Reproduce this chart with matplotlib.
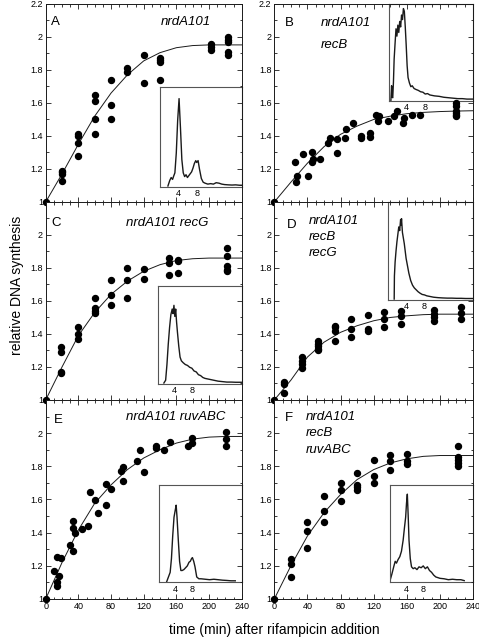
import matplotlib.pyplot as plt
import numpy as np
from matplotlib.ticker import MultipleLocator, FormatStrFormatter

plt.rcParams['font.family'] = ['Liberation Sans', 'DejaVu Sans']

# ---- measured points (time in min, relative DNA synthesis) ----
a_t = [0, 20, 20, 20, 20, 40, 40, 40, 40, 60, 60, 60, 60, 80, 80, 80, 100, 100,
       120, 120, 140, 140, 140, 140, 202, 202, 202, 223, 223, 223, 223, 223]
a_v = [1.0, 1.19, 1.18, 1.17, 1.13, 1.41, 1.40, 1.36, 1.28, 1.65, 1.61, 1.50, 1.41,
       1.74, 1.59, 1.50, 1.81, 1.79, 1.89, 1.72, 1.87, 1.86, 1.85, 1.74,
       1.955, 1.94, 1.92, 2.00, 1.98, 1.97, 1.91, 1.89]

b_t = [0, 25, 26, 27, 35, 41, 45, 45, 47, 55, 65, 67, 76, 76, 85, 87, 95, 105, 105,
       115, 116, 123, 125, 127, 137, 145, 148, 155, 157, 166, 176,
       220, 220, 220, 220, 220, 220]
b_v = [1.0, 1.24, 1.12, 1.155, 1.29, 1.155, 1.30, 1.24, 1.26, 1.26, 1.356, 1.39,
       1.38, 1.296, 1.39, 1.44, 1.48, 1.40, 1.386, 1.396, 1.42, 1.53, 1.49, 1.52,
       1.49, 1.52, 1.55, 1.48, 1.51, 1.53, 1.527,
       1.60, 1.58, 1.55, 1.54, 1.53, 1.52]

c_t = [0, 19, 19, 19, 19, 39, 39, 39, 60, 60, 60, 60, 80, 80, 80, 100, 100, 100,
       120, 120, 151, 151, 151, 162, 162, 162, 222, 222, 222, 222, 222]
c_v = [1.0, 1.32, 1.29, 1.17, 1.165, 1.44, 1.40, 1.37, 1.62, 1.56, 1.54, 1.53,
       1.725, 1.635, 1.575, 1.80, 1.73, 1.615, 1.795, 1.735, 1.86, 1.83, 1.76,
       1.85, 1.84, 1.77, 1.92, 1.87, 1.81, 1.79, 1.78]

d_t = [0, 12, 12, 12, 33, 33, 33, 33, 53, 53, 53, 53, 53, 73, 73, 73, 73, 93, 93, 93,
       113, 113, 113, 133, 133, 133, 153, 153, 153, 193, 193, 193, 193, 225, 225, 225]
d_v = [1.0, 1.11, 1.095, 1.04, 1.26, 1.235, 1.22, 1.195, 1.36, 1.34, 1.33, 1.31, 1.30,
       1.45, 1.44, 1.42, 1.36, 1.49, 1.43, 1.38, 1.515, 1.43, 1.42, 1.535, 1.49, 1.44,
       1.54, 1.51, 1.46, 1.545, 1.52, 1.50, 1.48, 1.565, 1.525, 1.49]

e_t = [0, 10.6, 13.4, 13.4, 13.4, 16.7, 18.7, 30, 33, 33.4, 33.8, 35.4, 44, 52, 54,
       60, 64, 73.6, 74.4, 79.7, 92, 94.8, 94.8, 112, 115, 120.4, 134.7, 135, 144.8,
       152.6, 174, 178.6, 179, 221, 221, 221]
e_v = [1.0, 1.171, 1.251, 1.105, 1.08, 1.141, 1.247, 1.324, 1.29, 1.47, 1.43, 1.40,
       1.42, 1.443, 1.644, 1.596, 1.52, 1.692, 1.567, 1.664, 1.769, 1.795, 1.714,
       1.833, 1.90, 1.763, 1.92, 1.91, 1.90, 1.944, 1.925, 1.97, 1.94,
       2.006, 1.966, 1.925]

f_t = [0, 20, 20, 20, 40, 40, 40, 60, 60, 60, 80, 80, 80, 100, 100, 100, 100,
       120, 120, 120, 140, 140, 140, 160, 160, 160, 222, 222, 222, 222, 222]
f_v = [1.0, 1.24, 1.21, 1.13, 1.465, 1.41, 1.31, 1.62, 1.53, 1.465, 1.70, 1.655, 1.59,
       1.76, 1.69, 1.675, 1.66, 1.84, 1.74, 1.70, 1.87, 1.835, 1.78,
       1.875, 1.83, 1.815, 1.925, 1.855, 1.84, 1.82, 1.80]

# ---- fitted curves, read at these times ----
fit_t = [0, 10, 20, 40, 60, 80, 100, 120, 140, 160, 180, 200, 220, 240]
a_fit = [1.0, 1.085, 1.17, 1.35, 1.52, 1.66, 1.77, 1.855, 1.905, 1.935, 1.948, 1.952, 1.952, 1.952]
b_fit = [1.0, 1.06, 1.12, 1.235, 1.335, 1.41, 1.46, 1.50, 1.52, 1.535, 1.543, 1.548, 1.551, 1.553]
c_fit = [1.0, 1.10, 1.20, 1.39, 1.53, 1.64, 1.72, 1.78, 1.82, 1.845, 1.856, 1.86, 1.86, 1.86]
d_fit = [1.0, 1.06, 1.12, 1.26, 1.35, 1.41, 1.45, 1.48, 1.50, 1.51, 1.517, 1.52, 1.52, 1.52]
e_fit = [1.0, 1.11, 1.22, 1.416, 1.577, 1.688, 1.78, 1.85, 1.90, 1.94, 1.964, 1.976, 1.98, 1.98]
f_fit = [1.0, 1.10, 1.20, 1.38, 1.52, 1.63, 1.72, 1.78, 1.82, 1.845, 1.86, 1.865, 1.865, 1.865]

# ---- inset DNA histograms (chromosome equivalents, relative cell number) ----
a_hx = [1.8, 2.2, 2.5, 2.8, 3.0, 3.3, 3.6, 3.9, 4.2, 4.5, 4.8, 5.1, 5.4, 5.7, 6.0, 6.3,
        6.6, 6.9, 7.2, 7.5, 7.8, 8.0, 8.3, 8.6, 9.0, 9.4, 9.8, 10.4, 11, 11.6, 12.2,
        12.8, 13.4, 14, 14.8, 15.6, 16.4, 17.2, 17.7]
a_hy = [0.0, 0.06, 0.09, 0.07, 0.10, 0.14, 0.35, 0.70, 0.93, 0.62, 0.28, 0.14, 0.10,
        0.12, 0.09, 0.11, 0.13, 0.15, 0.19, 0.24, 0.27, 0.25, 0.27, 0.18, 0.08, 0.04,
        0.03, 0.02, 0.025, 0.02, 0.035, 0.03, 0.02, 0.015, 0.012, 0.01, 0.012, 0.008, 0.008]
b_hx = [0.6, 0.75, 0.85, 1.0, 1.15, 1.3, 1.5, 1.7, 1.9, 2.1, 2.3, 2.5, 2.7, 2.9, 3.1,
        3.3, 3.5, 3.7, 3.9, 4.1, 4.3, 4.6, 4.9, 5.2, 5.6, 6.0, 6.5, 7, 7.5, 8, 8.5, 9,
        10, 11, 12, 13, 14, 15, 16, 17, 18.3]
b_hy = [0.0, 0.16, 0.04, 0.03, 0.2, 0.45, 0.62, 0.78, 0.70, 0.82, 0.74, 0.86, 0.80,
        0.93, 0.88, 1.0, 0.97, 0.80, 0.60, 0.38, 0.25, 0.19, 0.15, 0.16, 0.13, 0.12,
        0.11, 0.095, 0.09, 0.07, 0.075, 0.06, 0.05, 0.045, 0.035, 0.03, 0.025, 0.02,
        0.02, 0.015, 0.015]
c_hx = [1.6, 2.0, 2.3, 2.6, 2.9, 3.2, 3.5, 3.7, 3.9, 4.1, 4.3, 4.5, 4.7, 5.0, 5.3, 5.6,
        6.0, 6.5, 7, 7.5, 8, 8.5, 9, 9.5, 10, 10.5, 11, 12, 13, 14, 15, 16, 17, 18, 19.4]
c_hy = [0.0, 0.03, 0.2, 0.42, 0.6, 0.74, 0.80, 0.75, 0.84, 0.72, 0.80, 0.66, 0.55,
        0.40, 0.28, 0.24, 0.22, 0.20, 0.19, 0.17, 0.16, 0.13, 0.12, 0.09, 0.08, 0.06,
        0.05, 0.04, 0.03, 0.02, 0.015, 0.01, 0.01, 0.008, 0.008]
d_hx = [1.4, 1.45, 1.6, 1.8, 2.0, 2.2, 2.4, 2.6, 2.8, 2.9, 3.0, 3.2, 3.4, 3.6, 3.8, 4.0,
        4.3, 4.6, 5.0, 5.4, 5.8, 6.2, 6.6, 7, 7.5, 8, 8.5, 9, 10, 11, 12, 13, 14, 15,
        16, 17, 18.6]
d_hy = [0.0, 0.25, 0.40, 0.52, 0.62, 0.70, 0.78, 0.74, 0.86, 0.80, 0.87, 0.72, 0.66,
        0.60, 0.52, 0.44, 0.36, 0.28, 0.2, 0.15, 0.12, 0.1, 0.08, 0.065, 0.05, 0.045,
        0.035, 0.03, 0.02, 0.015, 0.012, 0.01, 0.01, 0.008, 0.008, 0.006, 0.006]
e_hx = [2.0, 2.4, 2.8, 3.1, 3.4, 3.7, 4.0, 4.2, 4.4, 4.7, 5.0, 5.3, 5.6, 6.0, 6.4, 6.8,
        7.2, 7.5, 7.8, 8.0, 8.3, 8.6, 9.0, 9.5, 10, 11, 12, 13, 14, 15, 16, 17, 18]
e_hy = [0.0, 0.05, 0.1, 0.25, 0.5, 0.7, 0.78, 0.83, 0.70, 0.45, 0.22, 0.12, 0.12, 0.13,
        0.15, 0.17, 0.21, 0.22, 0.25, 0.26, 0.22, 0.16, 0.05, 0.03, 0.03, 0.025, 0.02,
        0.025, 0.02, 0.015, 0.012, 0.008, 0.008]
f_hx = [0, 0.5, 1.0, 1.3, 1.6, 2.0, 2.4, 2.8, 3.2, 3.5, 3.8, 4.0, 4.2, 4.4, 4.6, 4.9,
        5.2, 5.6, 6.0, 6.5, 7, 7.5, 8, 8.5, 9, 9.5, 10, 10.5, 11, 12, 13, 14, 15, 16,
        17, 17.8]
f_hy = [0.0, 0.08, 0.17, 0.22, 0.2, 0.24, 0.27, 0.33, 0.45, 0.58, 0.70, 0.85, 0.95,
        0.72, 0.45, 0.25, 0.16, 0.14, 0.15, 0.13, 0.16, 0.15, 0.17, 0.14, 0.16, 0.12,
        0.1, 0.07, 0.05, 0.035, 0.03, 0.02, 0.025, 0.02, 0.02, 0.01]

# panel letter, genotype lines
panels = [
    ('A', ['nrdA101'], a_t, a_v, a_fit, a_hx, a_hy),
    ('B', ['nrdA101', 'recB'], b_t, b_v, b_fit, b_hx, b_hy),
    ('C', ['nrdA101 recG'], c_t, c_v, c_fit, c_hx, c_hy),
    ('D', ['nrdA101', 'recB', 'recG'], d_t, d_v, d_fit, d_hx, d_hy),
    ('E', ['nrdA101 ruvABC'], e_t, e_v, e_fit, e_hx, e_hy),
    ('F', ['nrdA101', 'recB', 'ruvABC'], f_t, f_v, f_fit, f_hx, f_hy),
]

# layout (figure fractions / axes fractions)
ax_pos = [[0.0954, 0.6854, 0.4092, 0.3084], [0.5727, 0.6854, 0.4148, 0.3084],
          [0.0954, 0.3770, 0.4092, 0.3084], [0.5727, 0.3770, 0.4148, 0.3084],
          [0.0954, 0.0670, 0.4092, 0.3100], [0.5727, 0.0670, 0.4148, 0.3100]]
inset_pos = [[0.581, 0.076, 0.419, 0.503], [0.575, 0.508, 0.425, 0.492],
             [0.574, 0.081, 0.426, 0.495], [0.571, 0.505, 0.429, 0.495],
             [0.576, 0.083, 0.424, 0.490], [0.581, 0.083, 0.419, 0.490]]
inset_xlim = [(0, 17.7), (0.1, 18.3), (0.3, 19.4), (0, 18.6), (0.1, 19.5), (0, 19.9)]
letter_xy = [(0.027, 0.91), (0.054, 0.904), (0.03, 0.895), (0.062, 0.884),
             (0.042, 0.90), (0.054, 0.908)]
geno_xy = [(0.587, [0.91]), (0.235, [0.904, 0.794]), (0.41, [0.895]),
           (0.171, [0.905, 0.822, 0.74]), (0.41, [0.916]), (0.16, [0.916, 0.833, 0.749])]

ink = '#1a1a1a'
fig = plt.figure(figsize=(4.79, 6.42), dpi=100)

for i, (letter, geno, t, v, fit, hx, hy) in enumerate(panels):
    ax = fig.add_axes(ax_pos[i])
    ax.set_xlim(0, 240)
    ax.set_ylim(1, 2.2)
    ax.xaxis.set_major_locator(MultipleLocator(40))
    ax.xaxis.set_minor_locator(MultipleLocator(10))
    if i < 2:
        ax.yaxis.set_major_locator(MultipleLocator(0.2))
    else:
        ax.set_yticks([1, 1.2, 1.4, 1.6, 1.8, 2.0])
    ax.yaxis.set_minor_locator(MultipleLocator(0.1))
    ax.yaxis.set_major_formatter(FormatStrFormatter('%g'))
    ax.tick_params(which='both', direction='in', top=True, right=True,
                   width=0.6, color=ink, labelsize=6.5, pad=2)
    ax.tick_params(which='major', length=3.5)
    ax.tick_params(which='minor', length=1.8)
    if i < 4:
        ax.tick_params(labelbottom=False)
    for s in ax.spines.values():
        s.set_linewidth(0.7)
        s.set_color(ink)

    ax.plot(fit_t, fit, color=ink, lw=0.7, zorder=2)
    ax.plot(t, v, 'o', color='black', ms=4.3, clip_on=False, zorder=4)

    ax.text(letter_xy[i][0], letter_xy[i][1], letter, transform=ax.transAxes,
            fontsize=9.5, va='center', ha='left')
    gx, gys = geno_xy[i]
    for line, gy in zip(geno, gys):
        ax.text(gx, gy, line, transform=ax.transAxes, fontsize=9.5,
                style='italic', va='center', ha='left')

    ins = ax.inset_axes(inset_pos[i], zorder=1)
    ins.plot(hx, hy, color=ink, lw=1.0)
    ins.set_xlim(*inset_xlim[i])
    ins.set_ylim(-0.01, 1.05)
    ins.set_xticks([4, 8])
    ins.set_yticks([])
    ins.tick_params(length=0, labelsize=6.5, pad=1.5)
    for s in ins.spines.values():
        s.set_linewidth(0.8)
        s.set_color('#555555')

fig.text(0.035, 0.555, 'relative DNA synthesis', rotation=90, fontsize=10,
         va='center', ha='center')
fig.text(0.572, 0.019, 'time (min) after rifampicin addition', fontsize=10,
         va='center', ha='center')

fig.savefig('out.png', dpi=100)
